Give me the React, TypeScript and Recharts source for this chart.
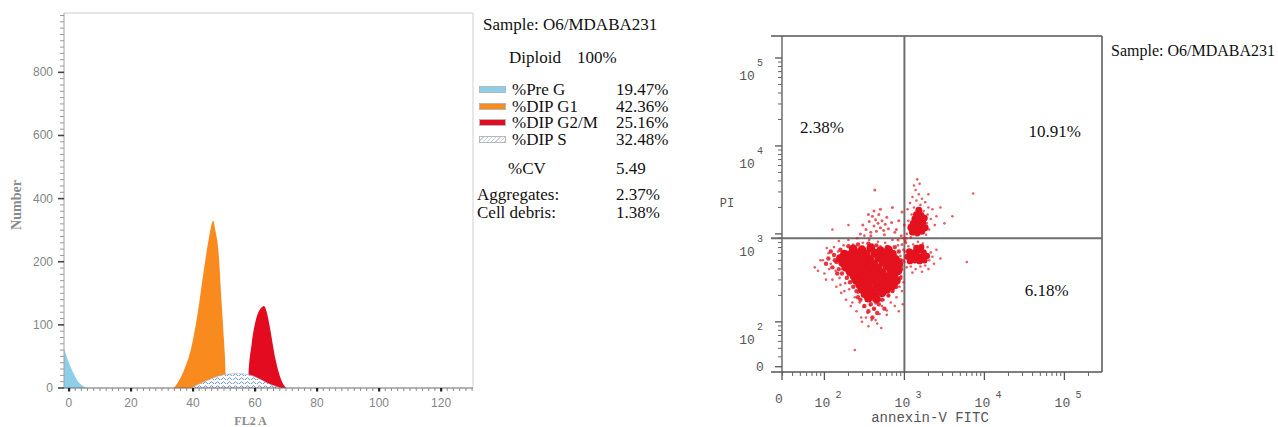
import {
  ComposedChart, Area, ScatterChart, Scatter, XAxis, YAxis, ReferenceLine,
} from 'recharts';

// ---- FL2-A cell cycle histogram (channel, cell count) ----
const preGX = [-1.6, -1, 0, 1, 2, 3, 4, 5, 5.8];
const preGCount = [62, 54, 40, 28, 18, 10, 5, 1.5, 0];
const g1X = [33.8, 35, 37, 39.5, 41.5, 43.3, 45, 46.5, 47.3, 48.2, 49.2, 50.0, 50.5, 50.6];
const g1Count = [0, 8, 27, 65, 118, 180, 267, 330, 295, 235, 138, 75, 22, 0];
const g2mX = [57.8, 57.9, 58.9, 60.5, 61.8, 62.9, 63.8, 64.8, 66.5, 68.6, 70];
const g2mCount = [0, 19, 69, 112, 126, 130, 120, 96, 48, 11, 0];
const sX = [39.5, 41, 43.3, 46.5, 50, 54, 58, 61.6, 64.8, 67, 68.5];
const sCount = [0, 4, 9, 16, 21, 23, 21, 14, 6, 2, 0];

// y labels are equally spaced although the steps are not (0,100,200,400,...)
const histYLabels = [0, 100, 200, 400, 600, 800];
const histXLabels = [0, 20, 40, 60, 80, 100, 120];

// ---- annexin-V FITC / PI dot plot, log10 units ----
const mainCore: [number, number][] = [
  [2.36, 2.83], [2.47, 2.82], [2.58, 2.84], [2.70, 2.81], [2.80, 2.82],
  [2.25, 2.77], [2.31, 2.76], [2.41, 2.78], [2.52, 2.77], [2.63, 2.78], [2.75, 2.76], [2.85, 2.77],
  [2.20, 2.72], [2.28, 2.71], [2.36, 2.73], [2.46, 2.72], [2.57, 2.71], [2.68, 2.73], [2.79, 2.72], [2.89, 2.71],
  [2.23, 2.67], [2.32, 2.66], [2.41, 2.68], [2.51, 2.67], [2.62, 2.66], [2.73, 2.68], [2.84, 2.67], [2.93, 2.66],
  [2.27, 2.62], [2.37, 2.61], [2.46, 2.63], [2.56, 2.62], [2.67, 2.61], [2.78, 2.63], [2.88, 2.62],
  [2.32, 2.57], [2.42, 2.56], [2.51, 2.58], [2.61, 2.57], [2.72, 2.56], [2.83, 2.57], [2.92, 2.58],
  [2.37, 2.52], [2.47, 2.51], [2.56, 2.53], [2.66, 2.52], [2.77, 2.51], [2.87, 2.52],
  [2.40, 2.47], [2.51, 2.46], [2.61, 2.48], [2.71, 2.47], [2.82, 2.46], [2.90, 2.47],
  [2.44, 2.42], [2.55, 2.41], [2.65, 2.43], [2.75, 2.42], [2.85, 2.41],
  [2.47, 2.37], [2.58, 2.36], [2.68, 2.38], [2.78, 2.37],
  [2.51, 2.32], [2.62, 2.31], [2.72, 2.33],
  [2.55, 2.27], [2.65, 2.26],
];
const mainEdge: [number, number][] = [
  [2.05, 2.72], [2.10, 2.62], [2.12, 2.76], [2.15, 2.68], [2.16, 2.55], [2.18, 2.74], [2.13, 2.70],
  [2.45, 2.25], [2.50, 2.18], [2.58, 2.20], [2.62, 2.15], [2.68, 2.20], [2.72, 2.25], [2.55, 2.12],
  [2.66, 2.10], [2.48, 2.30], [2.80, 2.30], [2.85, 2.35], [2.95, 2.70], [2.96, 2.60], [2.95, 2.50],
  [2.93, 2.80], [2.90, 2.40], [2.30, 2.86], [2.42, 2.88], [2.55, 2.89], [2.65, 2.87], [2.78, 2.85],
  [2.88, 2.85], [2.20, 2.82], [2.28, 2.50], [2.32, 2.45], [2.36, 2.40], [2.22, 2.55], [2.18, 2.60],
  [2.40, 2.35], [2.42, 2.28], [2.08, 2.80], [2.02, 2.66], [2.60, 2.05], [2.75, 2.15],
];
const mainHalo: [number, number][] = [
  [1.88, 2.62], [1.95, 2.70], [2.00, 2.55], [2.05, 2.78], [2.08, 2.66], [2.10, 2.48], [2.12, 2.85],
  [2.14, 2.58], [2.15, 2.40], [2.18, 2.92], [2.17, 2.80], [2.19, 2.50], [2.21, 2.33], [2.22, 2.60],
  [2.24, 2.87], [2.26, 2.44], [2.27, 2.25], [2.29, 2.52], [2.30, 2.93], [2.31, 2.37], [2.33, 2.18],
  [2.34, 2.46], [2.36, 2.88], [2.38, 2.28], [2.40, 2.12], [2.41, 2.95], [2.42, 2.33], [2.44, 2.22],
  [2.46, 2.05], [2.48, 2.90], [2.49, 2.17], [2.50, 2.98], [2.52, 2.24], [2.54, 2.10], [2.56, 2.93],
  [2.57, 2.19], [2.59, 2.02], [2.60, 2.88], [2.62, 2.14], [2.64, 2.21], [2.66, 1.98], [2.67, 2.91],
  [2.69, 2.09], [2.70, 2.86], [2.72, 2.18], [2.74, 2.25], [2.76, 2.90], [2.78, 2.13], [2.80, 2.30],
  [2.81, 2.84], [2.83, 2.22], [2.85, 2.93], [2.86, 2.35], [2.88, 2.80], [2.90, 2.28], [2.92, 2.87],
  [2.94, 2.40], [2.95, 2.75], [2.96, 2.52], [2.97, 2.63], [2.98, 2.20], [2.99, 2.95], [2.93, 2.12],
  [2.71, 1.93], [2.55, 1.95], [2.47, 2.00], [1.98, 2.70], [2.10, 3.05], [2.30, 3.10], [2.38, 1.68],
  [1.92, 2.58], [2.02, 2.48], [2.06, 2.60], [2.03, 2.84], [2.20, 2.42], [2.25, 2.35], [2.35, 2.22],
  [2.52, 2.05], [2.64, 2.02], [2.78, 2.08], [2.88, 2.18], [2.97, 2.35], [2.99, 2.45],
];
const ulDots: [number, number][] = [
  [2.52, 3.05], [2.56, 3.14], [2.58, 3.02], [2.60, 3.20], [2.62, 3.09], [2.64, 3.16], [2.65, 3.03],
  [2.67, 3.12], [2.68, 3.22], [2.70, 3.07], [2.72, 3.15], [2.74, 3.04], [2.76, 3.11], [2.78, 3.19],
  [2.80, 3.06], [2.62, 3.26], [2.70, 3.28], [2.55, 3.22], [2.48, 3.10], [2.84, 3.13], [2.58, 2.98],
  [2.75, 2.99], [2.88, 3.02], [2.45, 3.00], [2.63, 3.50],
  [2.90, 3.05], [2.93, 3.15], [2.96, 2.98], [2.97, 3.25], [3.00, 3.10], [2.85, 3.30], [2.92, 2.93],
  [2.98, 2.70], [3.01, 2.92], [2.99, 2.82], [3.02, 2.95], [2.97, 2.88],
];
const urCore: [number, number][] = [
  [3.10, 3.02], [3.16, 3.01], [3.22, 3.03], [3.08, 3.07], [3.14, 3.06], [3.20, 3.08], [3.26, 3.07],
  [3.11, 3.12], [3.17, 3.11], [3.23, 3.13], [3.13, 3.17], [3.19, 3.16], [3.25, 3.18], [3.15, 3.22],
  [3.21, 3.21], [3.18, 3.27],
];
const urHalo: [number, number][] = [
  [3.03, 3.00], [3.05, 3.15], [3.04, 3.28], [3.07, 3.35], [3.09, 3.22], [3.10, 3.42], [3.12, 3.30],
  [3.14, 3.50], [3.15, 3.38], [3.17, 3.27], [3.18, 3.45], [3.20, 3.33], [3.22, 3.40], [3.24, 3.26],
  [3.26, 3.36], [3.28, 3.12], [3.29, 3.22], [3.31, 3.05], [3.33, 3.17], [3.35, 3.28], [3.30, 3.45],
  [3.19, 3.57], [3.12, 3.55], [3.38, 3.10], [3.40, 3.20], [3.27, 2.99], [3.08, 2.96], [3.45, 3.30],
  [3.50, 3.12], [3.60, 3.20], [3.86, 3.46], [3.06, 3.10], [3.30, 3.30], [3.16, 3.62],
];
const lrCore: [number, number][] = [
  [3.06, 2.80], [3.12, 2.79], [3.18, 2.81], [3.24, 2.79], [3.04, 2.74], [3.10, 2.74], [3.16, 2.75],
  [3.22, 2.74], [3.28, 2.75], [3.07, 2.69], [3.13, 2.70], [3.19, 2.69], [3.25, 2.70], [3.15, 2.84],
  [3.21, 2.85],
];
const lrHalo: [number, number][] = [
  [3.02, 2.90], [3.03, 2.62], [3.05, 2.86], [3.08, 2.63], [3.11, 2.88], [3.14, 2.60], [3.17, 2.91],
  [3.20, 2.63], [3.23, 2.89], [3.26, 2.64], [3.29, 2.85], [3.31, 2.70], [3.33, 2.79], [3.35, 2.74],
  [3.37, 2.66], [3.30, 2.60], [3.10, 2.56], [3.22, 2.57], [3.40, 2.82], [3.45, 2.72], [3.01, 2.80],
  [3.00, 2.68], [3.78, 2.68],
];

const quadrantText = ['2.38%', '10.91%', '6.18%'];
const quadrantX = [1.97, 4.88, 4.78];
const quadrantY = [4.21, 4.16, 2.36];
const gateX = 3.0;
const gateY = 2.95;

// axis ticks of the dot plot ('' = the zero tick)
const scXMajor = [1.47, 2, 3, 4, 5];
const scYMajor = [1.49, 2, 3, 4, 5];
const scExp = ['', '2', '3', '4', '5'];

// ---- text panel ----
const sampleName = 'Sample: O6/MDABA231';
const legendLabels = ['%Pre G', '%DIP G1', '%DIP G2/M', '%DIP S'];
const legendValues = ['19.47%', '42.36%', '25.16%', '32.48%'];
const statLabels = ['%CV', 'Aggregates:', 'Cell debris:'];
const statValues = ['5.49', '2.37%', '1.38%'];

const PRE = '#8dcfe8';
const G1 = '#f98a1e';
const G2M = '#e20b20';
const DOT = '#e3121e';
const SERIF = '"Liberation Serif", "Times New Roman", serif';
const MONO = '"Liberation Mono", "DejaVu Sans Mono", monospace';
const SANS = '"Liberation Sans", Arial, sans-serif';

function toStep(n: number) {
  const L = histYLabels;
  for (let i = 0; i < L.length - 1; i++) {
    if (n <= L[i + 1]) return i + (n - L[i]) / (L[i + 1] - L[i]);
  }
  const k = L.length - 1;
  return k + (n - L[k]) / (L[k] - L[k - 1]);
}
const rows = (xs: number[], ns: number[]) => xs.map((x, i) => ({ x, n: toStep(ns[i]) }));
const pts = (a: [number, number][]) => a.map(([x, y]) => ({ x, y }));

const histYTicks = Array.from({ length: 60 }, (_, i) => i / 10);
const histXTicks = Array.from({ length: 66 }, (_, i) => i * 2);

const decadeMinor: number[] = [];
for (let d = 1; d <= 5; d++) for (let k = 2; k <= 9; k++) decadeMinor.push(d + Math.log10(k));
const scXTicks = [...scXMajor, ...decadeMinor.filter(v => v > 1.476 && v < 5.47)].sort((a, b) => a - b);
const scYTicks = [...scYMajor, ...decadeMinor.filter(v => v > 1.5 && v < 5.25)].sort((a, b) => a - b);

function HistXTick({ x, y, payload }: any) {
  const v = payload.value;
  if (!histXLabels.includes(v)) {
    return <line x1={x} x2={x} y1={y} y2={y + 3} stroke="#8a8a8a" />;
  }
  return (
    <g>
      <rect x={x - 1} y={y} width={2.2} height={3.5} fill="#222" />
      <text x={x} y={y + 19} textAnchor="middle" fontSize={12} fill="#858585" fontFamily={SANS}>{v}</text>
    </g>
  );
}

function HistYTick({ x, y, payload }: any) {
  const i = Math.round(payload.value * 10);
  if (i % 10 !== 0) {
    return <line x1={x - 4} x2={x} y1={y} y2={y} stroke="#9a9a9a" />;
  }
  return (
    <g>
      <line x1={x - 6} x2={x} y1={y} y2={y} stroke="#444" strokeWidth={1.6} />
      <text x={x - 11} y={y + 4} textAnchor="end" fontSize={12} fill="#858585" fontFamily={SANS}>
        {histYLabels[i / 10]}
      </text>
    </g>
  );
}

function ScXTick({ x, y, payload }: any) {
  const i = scXMajor.findIndex(v => Math.abs(v - payload.value) < 1e-6);
  if (i < 0) return <line x1={x} x2={x} y1={y} y2={y + 4} stroke="#666" />;
  const exp = scExp[i];
  return (
    <g fill="#555" fontFamily={MONO}>
      <line x1={x} x2={x} y1={y} y2={y + 8} stroke="#555" strokeWidth={1.3} />
      {exp === '' ? (
        <text x={x - 3} y={y + 30.5} textAnchor="middle" fontSize={13}>0</text>
      ) : (
        <>
          <text x={x - 2} y={y + 34.5} textAnchor="middle" fontSize={13}>10</text>
          <text x={x + 14} y={y + 25.5} textAnchor="middle" fontSize={10}>{exp}</text>
        </>
      )}
    </g>
  );
}

function ScYTick({ x, y, payload }: any) {
  const ax = x + 11; // axis line sits inside the frame
  const i = scYMajor.findIndex(v => Math.abs(v - payload.value) < 1e-6);
  if (i < 0) return <line x1={ax - 4} x2={ax} y1={y} y2={y} stroke="#666" />;
  const exp = scExp[i];
  return (
    <g fill="#555" fontFamily={MONO}>
      <line x1={ax - 7} x2={ax} y1={y} y2={y} stroke="#555" strokeWidth={1.3} />
      {exp === '' ? (
        <text x={x - 11} y={y + 4.5} textAnchor="middle" fontSize={13}>0</text>
      ) : (
        <>
          <text x={x - 24} y={y + 22} textAnchor="middle" fontSize={13}>10</text>
          <text x={x - 11} y={y + 8} textAnchor="middle" fontSize={10}>{exp}</text>
        </>
      )}
    </g>
  );
}

const dot = (r: number, fill: string, opacity = 1) => (p: any) => (
  <circle cx={p.cx} cy={p.cy} r={r} fill={fill} fillOpacity={opacity} />
);

function Txt({ x, cy, size = 17, children }: { x: number; cy: number; size?: number; children: any }) {
  return (
    <div style={{
      position: 'absolute', left: x, top: cy - size * 0.48, fontSize: size, lineHeight: `${size}px`,
      fontFamily: SERIF, color: '#111', whiteSpace: 'nowrap',
    }}>
      {children}
    </div>
  );
}

const swatchFills = [
  PRE, G1, G2M,
  'repeating-linear-gradient(135deg, #ffffff 0 2px, #c3cfdf 2px 3px)',
];

export default function App() {
  return (
    <div style={{ position: 'absolute', left: 0, top: 0, width: 1278, height: 427, background: '#fff', overflow: 'hidden' }}>
      <div style={{ position: 'absolute', left: 0, top: 0 }}>
        <ComposedChart width={480} height={427} margin={{ top: 13, right: 7, left: 0, bottom: 0 }}>
          <defs>
            <pattern id="sPhaseHatch" patternUnits="userSpaceOnUse" width={6} height={4}>
              <rect width={6} height={4} fill="#ffffff" />
              <path d="M0 3 Q1.5 0.5 3 3 T6 3" fill="none" stroke="#4d7bb5" strokeWidth={0.8} />
            </pattern>
          </defs>
          <XAxis
            type="number" dataKey="x" domain={[-1.6, 130.3]} allowDataOverflow
            ticks={histXTicks} interval={0} tickSize={0} tickMargin={0} tickLine={false}
            axisLine={{ stroke: '#6a6a6a' }} tick={(p: any) => <HistXTick {...p} />} height={39}
            label={{
              content: ({ viewBox }: any) => (
                <text x={viewBox.x + viewBox.width / 2 - 18} y={viewBox.y + 37} textAnchor="middle"
                  fontSize={12} fontWeight="bold" fill="#8a8a8a" fontFamily={SERIF}>FL2 A</text>
              ),
            }}
          />
          <YAxis
            type="number" domain={[0, 5.94]} allowDataOverflow ticks={histYTicks} interval={0}
            tickSize={0} tickMargin={0} tickLine={false} axisLine={{ stroke: '#a0a0a0' }}
            tick={(p: any) => <HistYTick {...p} />} width={64}
            label={{
              content: ({ viewBox }: any) => {
                const cx = viewBox.x + 21;
                const cy = viewBox.y + 192;
                return (
                  <text x={cx} y={cy} transform={`rotate(-90 ${cx} ${cy})`} textAnchor="middle"
                    fontSize={14} fontWeight="bold" fill="#8a8a8a" fontFamily={SERIF}>Number</text>
                );
              },
            }}
          />
          <ReferenceLine y={5.94} stroke="#cfcfcf" />
          <ReferenceLine x={130.3} stroke="#cfcfcf" />
          <Area data={rows(preGX, preGCount)} dataKey="n" type="monotone" fill={PRE} fillOpacity={1} stroke="none" isAnimationActive={false} />
          <Area data={rows(g1X, g1Count)} dataKey="n" type="monotone" fill={G1} fillOpacity={1} stroke="none" isAnimationActive={false} />
          <Area data={rows(g2mX, g2mCount)} dataKey="n" type="monotone" fill={G2M} fillOpacity={1} stroke="none" isAnimationActive={false} />
          <Area data={rows(sX, sCount)} dataKey="n" type="monotone" fill="url(#sPhaseHatch)" fillOpacity={1} stroke="#a9bcd8" strokeWidth={0.6} isAnimationActive={false} />
        </ComposedChart>
      </div>

      <Txt x={483} cy={24}>{sampleName}</Txt>
      <Txt x={509} cy={57}>Diploid</Txt>
      <Txt x={577} cy={57}>100%</Txt>
      {legendLabels.map((l, i) => {
        const cy = 89 + i * 16.7;
        return (
          <div key={l}>
            <div style={{
              position: 'absolute', left: 479, top: cy - 3, width: 27, height: 7,
              background: swatchFills[i], border: '1px solid #b8b8b8', boxSizing: 'border-box',
            }} />
            <Txt x={512} cy={cy}>{l}</Txt>
            <Txt x={616} cy={cy}>{legendValues[i]}</Txt>
          </div>
        );
      })}
      {statLabels.map((l, i) => {
        const cy = [168, 194, 212][i];
        return (
          <div key={l}>
            <Txt x={i === 0 ? 508 : 477} cy={cy}>{l}</Txt>
            <Txt x={616} cy={cy}>{statValues[i]}</Txt>
          </div>
        );
      })}

      <div style={{ position: 'absolute', left: 700, top: 0 }}>
        <ScatterChart width={420} height={427} margin={{ top: 36, right: 18, left: 0, bottom: 0 }}>
          <XAxis
            type="number" dataKey="x" domain={[1.3325, 5.47]} allowDataOverflow
            ticks={scXTicks} interval={0} tickSize={0} tickMargin={0} tickLine={false}
            axisLine={{ stroke: '#555', strokeWidth: 1.5 }} tick={(p: any) => <ScXTick {...p} />} height={55}
            label={{
              content: ({ viewBox }: any) => (
                <text x={viewBox.x + 159} y={viewBox.y + 50} textAnchor="middle" fontSize={14}
                  fill="#555" fontFamily={MONO}>annexin-V FITC</text>
              ),
            }}
          />
          <YAxis
            type="number" dataKey="y" domain={[1.43, 5.25]} allowDataOverflow
            ticks={scYTicks} interval={0} tickSize={0} tickMargin={0} tickLine={false}
            axisLine={false} tick={(p: any) => <ScYTick {...p} />} width={71}
            label={{
              content: ({ viewBox }: any) => (
                <text x={viewBox.x + 27} y={viewBox.y + 171} textAnchor="middle" fontSize={12}
                  fill="#555" fontFamily={MONO}>PI</text>
              ),
            }}
          />
          <Scatter data={pts(mainHalo)} shape={dot(1.3, DOT, 0.7)} isAnimationActive={false} />
          <Scatter data={pts(ulDots)} shape={dot(1.5, DOT, 0.7)} isAnimationActive={false} />
          <Scatter data={pts(urHalo)} shape={dot(1.3, DOT, 0.7)} isAnimationActive={false} />
          <Scatter data={pts(lrHalo)} shape={dot(1.3, DOT, 0.7)} isAnimationActive={false} />
          <Scatter data={pts(mainEdge)} shape={dot(2.2, DOT, 0.85)} isAnimationActive={false} />
          <Scatter data={pts(mainCore)} shape={dot(4.4, DOT)} isAnimationActive={false} />
          <Scatter data={pts(urCore)} shape={dot(3.4, DOT)} isAnimationActive={false} />
          <Scatter data={pts(lrCore)} shape={dot(3.2, DOT)} isAnimationActive={false} />
          <ReferenceLine x={1.47} stroke="#555" strokeWidth={1.3} />
          <ReferenceLine y={5.25} stroke="#555" strokeWidth={1.5} />
          <ReferenceLine x={5.47} stroke="#555" strokeWidth={1.5} />
          <ReferenceLine x={gateX} stroke="#6e6e6e" strokeWidth={2} />
          <ReferenceLine y={gateY} stroke="#6e6e6e" strokeWidth={2} />
          <Scatter
            data={quadrantText.map((t, i) => ({ x: quadrantX[i], y: quadrantY[i], t }))}
            shape={(p: any) => (
              <text x={p.cx} y={p.cy + 5.5} textAnchor="middle" fontSize={17} fill="#111" fontFamily={SERIF}>
                {p.payload.t}
              </text>
            )}
            isAnimationActive={false}
          />
        </ScatterChart>
      </div>

      <Txt x={1111} cy={51} size={16}>{sampleName}</Txt>
    </div>
  );
}
